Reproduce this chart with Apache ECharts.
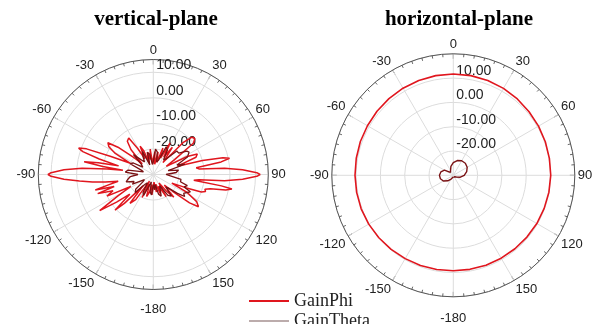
<!DOCTYPE html>
<html><head><meta charset="utf-8">
<script src="https://cdn.jsdelivr.net/npm/echarts@6/dist/echarts.min.js"></script>
<style>html,body{margin:0;padding:0;background:#fff}#c{width:597px;height:324px}</style>
</head><body><div id="c"></div>
<script>
// angle ticks (degrees), labels shown as -150..180 style
var angleTicks = [0, 30, 60, 90, 120, 150, 180, 210, 240, 270, 300, 330];
var radialTicksLeft = [-20, -10, 0, 10];
var radialTicksRight = [-20, -10, 0, 10];

// vertical-plane GainPhi: [angle deg, gain dB]
var vGainPhi = [
 [-180,-25],[-176,-22],[-172,-26],[-168,-23],[-163,-21],[-159,-26],[-154,-20],[-150,-27],[-145,-18],[-141,-15.5],
 [-138,-24],[-135,-14],[-133,-9.5],[-130,-18],[-127,-12],[-124,-4.7],[-121,-14],[-118,-20],[-115,-10],[-112,-13],
 [-109,-7],[-107,-14],[-105,-6.5],[-103,-12],[-101,-16],[-99,-11],[-97,-6],[-95,-1],[-93,5],[-91,10],[-90,11.2],
 [-89,10],[-87,5],[-85,-2],[-83,-12],[-82,-18],[-81,-10],[-79.5,-2.5],[-78,-8],[-76,-16],[-74,-8],[-72,-1],
 [-70.5,1],[-69,-2],[-67,-12],[-64,-20],[-61,-13],[-58,-9.5],[-55,-8.3],[-52,-13],[-49,-20],[-46,-24],[-42,-17],
 [-38,-13.5],[-34,-12.8],[-31,-18],[-28,-23],[-25,-17.8],[-22,-20],[-19,-25],[-15,-21],[-11,-24],[-7,-20],[-3,-26],
 [0,-24],[4,-21],[8,-26],[12,-21],[16,-25],[20,-19],[24,-23],[28,-16],[31,-22],[35,-17],[39,-24],[43,-13],[46,-9],
 [49,-8.5],[52,-10],[55,-20],[58,-24],[62,-15],[65,-11],[68,-12],[71,-20],[74,-10],[76.5,-2],[78,0.5],[79.5,-3],
 [81,-13],[83,-12],[85,-2],[87,5],[89,10.5],[90,11.8],[91,10.5],[93,5],[95,-2],[96.5,-12],[98,-14],[99.5,-3],
 [100.5,1.3],[102,-1],[104,-7],[106,-9],[108,-8.5],[110,-10],[112,-16],[115,-22],[118,-15],[122,-10],[125.5,-8.3],
 [128,-12],[131,-20],[134,-24],[138,-18],[142,-22],[146,-26],[150,-20],[155,-25],[160,-22],[165,-26],[170,-23],
 [175,-27],[180,-25]
];
// vertical-plane GainTheta
var vGainTheta = [
 [-180,-26],[-175,-22],[-170,-23],[-165,-27],[-160,-27],[-155,-21],[-150,-22],[-145,-26],[-140,-25],[-135,-20],
 [-130,-21],[-125,-25],[-120,-26],[-115,-21],[-110,-22],[-105,-19],[-100,-20],[-95,-21],[-90,-24],[-85,-19],
 [-80,-20],[-75,-26],[-70,-25],[-65,-20],[-60,-21],[-55,-25],[-50,-24],[-45,-19],[-40,-19],[-35,-24],[-30,-22],
 [-25,-20],[-20,-26],[-15,-21],[-10,-22],[-5,-26],[0,-25],[5,-20],[10,-21],[15,-25],[20,-24],[25,-18],[30,-19],
 [35,-23],[40,-22],[45,-17],[50,-17],[55,-14],[58,-13.5],[63,-15],[68,-20],[72,-17],[75,-24],[80,-20],[85,-21],
 [90,-25],[95,-23],[100,-19],[105,-19],[108,-16],[112,-17],[115,-14],[118,-15],[122,-16],[125,-15],[128,-18],
 [132,-22],[135,-23],[140,-19],[145,-20],[150,-25],[155,-25],[160,-21],[165,-22],[170,-26],[175,-24],[180,-26]
];
// horizontal-plane GainPhi
var hGainPhi = [
 [-180,9.3],[-170,9.35],[-160,9.5],[-150,9.6],[-140,9.8],[-130,10.0],[-120,10.2],[-110,10.35],[-100,10.4],
 [-90,10.45],[-80,10.55],[-70,10.7],[-60,10.8],[-50,11.0],[-40,11.2],[-30,11.4],[-20,11.55],[-10,11.65],
 [0,11.7],[10,11.65],[20,11.5],[30,11.3],[40,11.0],[50,10.7],[60,10.5],[70,10.3],[80,10.15],[90,10.1],
 [100,9.95],[110,9.8],[120,9.7],[130,9.55],[140,9.45],[150,9.4],[160,9.35],[170,9.3],[180,9.3]
];
// horizontal-plane GainTheta
var hGainTheta = [
 [-180,-29.3],[-165,-29],[-150,-28.2],[-135,-26.8],[-120,-25.3],[-105,-24.5],[-90,-24.3],[-75,-24.7],[-60,-25.8],
 [-45,-28.3],[-30,-27.8],[-15,-26.2],[0,-24.8],[15,-23.7],[30,-23.1],[45,-23],[60,-23.4],[75,-24.3],[90,-25.5],
 [105,-27],[120,-28.6],[135,-29.2],[150,-29.4],[165,-29.4],[180,-29.3]
];

var RED = '#e0161e', DARK = '#7a1214';
function toPolar(arr){ return arr.map(function(p){ var a = p[0] < 0 ? p[0] + 360 : p[0]; return [p[1], a]; }); }
function angFmt(v){ if (v === 360) return ''; if (v === 180) return '{b|-180}'; return v > 180 ? String(v - 360) : String(v); }
function radFmt(ticks){ return function(v){ return ticks.indexOf(v) >= 0 ? v.toFixed(2) : ''; }; }

var lab = {fontFamily:'Liberation Sans', fontSize:13, color:'#222'};
function angleAxis(idx, bottomPad){
  return {polarIndex: idx, type:'value', min:0, max:360, interval:30, startAngle:90, clockwise:true,
    axisLine:{lineStyle:{color:'#555', width:1}},
    axisTick:{show:true, inside:true, length:5, lineStyle:{color:'#555'}},
    minorTick:{show:true, splitNumber:6, length:3, lineStyle:{color:'#666'}},
    splitLine:{show:true, lineStyle:{color:'#dcdcdc', width:1}},
    axisLabel:Object.assign({margin:3, formatter:angFmt,
      rich:{b:{fontFamily:'Liberation Sans', fontSize:13, color:'#222', padding:[bottomPad,0,0,0]}}}, lab)};
}
function radiusAxis(idx, min, max, ticks){
  return {polarIndex: idx, type:'value', min:min, max:max, interval:10,
    axisLine:{show:false}, axisTick:{show:false},
    splitLine:{show:true, lineStyle:{color:'#dcdcdc', width:1}},
    axisLabel:{formatter:radFmt(ticks), margin:-3, align:'left', verticalAlign:'bottom',
      fontFamily:'Liberation Sans', fontSize:14, color:'#222'}};
}

var chart = echarts.init(document.getElementById('c'));
chart.setOption({
  animation:false,
  title:[
    {text:'vertical-plane', left:151, top:4, textAlign:'center', textStyle:{fontFamily:'Liberation Serif', fontWeight:'bold', fontSize:21, color:'#000'}},
    {text:'horizontal-plane', left:454, top:4, textAlign:'center', textStyle:{fontFamily:'Liberation Serif', fontWeight:'bold', fontSize:21, color:'#000'}}
  ],
  polar:[{center:[153.3,174.5], radius:115},{center:[453.3,175.3], radius:121.5}],
  angleAxis:[angleAxis(0, 10), angleAxis(1, 12)],
  radiusAxis:[radiusAxis(0,-30,15,radialTicksLeft), radiusAxis(1,-30,20,radialTicksRight)],
  legend:[
    {data:[{name:'GainPhi', icon:'rect'}], left:244, top:287, itemWidth:40, itemHeight:2, itemGap:6,
     textStyle:{fontFamily:'Liberation Serif', fontSize:18, color:'#222'}},
    {data:[{name:'GainTheta', icon:'rect', itemStyle:{color:'#7a5a5a'}}], left:244, top:307, itemWidth:40, itemHeight:1,
     textStyle:{fontFamily:'Liberation Serif', fontSize:18, color:'#222'}}
  ],
  series:[
    {name:'GainPhi', type:'line', coordinateSystem:'polar', polarIndex:0, data:toPolar(vGainPhi), showSymbol:false, lineStyle:{color:RED, width:1.5}, itemStyle:{color:RED}, z:3},
    {name:'GainTheta', type:'line', coordinateSystem:'polar', polarIndex:0, data:toPolar(vGainTheta), showSymbol:false, lineStyle:{color:DARK, width:1.3}, itemStyle:{color:DARK}, z:4},
    {name:'GainPhi', type:'line', coordinateSystem:'polar', polarIndex:1, data:toPolar(hGainPhi), showSymbol:false, lineStyle:{color:RED, width:1.6}, itemStyle:{color:RED}, z:3},
    {name:'GainTheta', type:'line', coordinateSystem:'polar', polarIndex:1, data:toPolar(hGainTheta), showSymbol:false, lineStyle:{color:DARK, width:1.4}, itemStyle:{color:DARK}, z:4}
  ]
});
</script></body></html>
